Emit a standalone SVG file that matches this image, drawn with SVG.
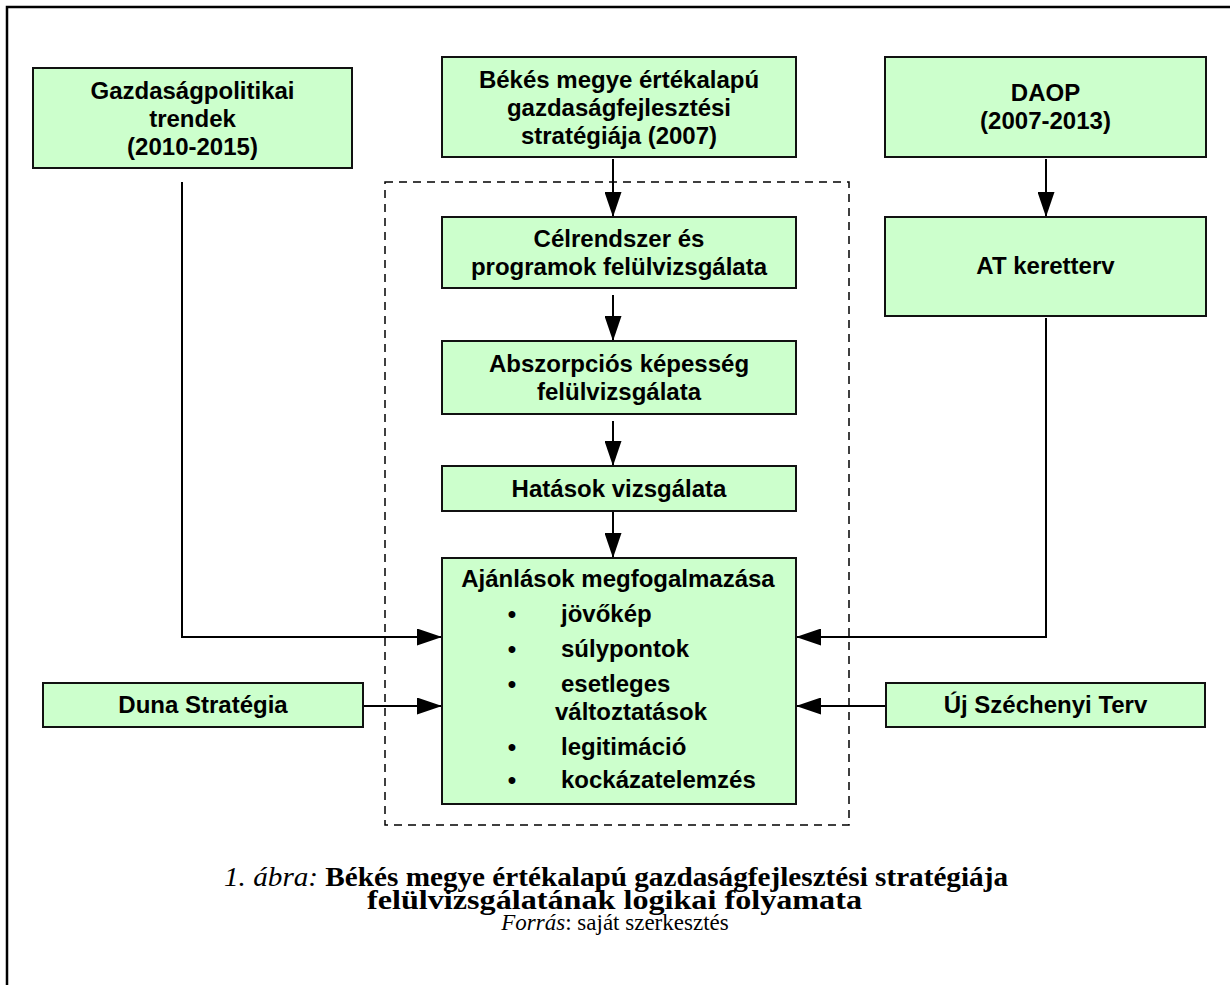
<svg xmlns="http://www.w3.org/2000/svg" width="1230" height="985" viewBox="0 0 1230 985">
<style>
.box{fill:#CCFFCC;stroke:#111;stroke-width:2}
.t{font-family:"Liberation Sans",Arial,sans-serif;font-weight:bold;font-size:24px;fill:#000;text-anchor:middle}
.l{font-family:"Liberation Sans",Arial,sans-serif;font-weight:bold;font-size:24px;fill:#000}
.c{stroke:#000;stroke-width:2;fill:none}
.cap{font-family:"Liberation Serif","Times New Roman",serif;fill:#000}
</style>
<defs>
<marker id="ah" markerUnits="userSpaceOnUse" markerWidth="26" markerHeight="17" refX="25" refY="8.5" orient="auto">
<path d="M0,0 L25,8.5 L0,17 z" fill="#000"/>
</marker>
</defs>
<rect width="1230" height="985" fill="#fff"/>
<path d="M7,985 V7 H1230" stroke="#000" stroke-width="2.5" fill="none"/>
<rect id="scope" x="385" y="182" width="464" height="643" fill="none" stroke="#000" stroke-width="1.5" stroke-dasharray="8,6"/>
<g id="connectors">
<line class="c" x1="613" y1="159" x2="613" y2="217" marker-end="url(#ah)"/>
<line class="c" x1="613" y1="295" x2="613" y2="341" marker-end="url(#ah)"/>
<line class="c" x1="613" y1="421" x2="613" y2="466" marker-end="url(#ah)"/>
<line class="c" x1="613" y1="512" x2="613" y2="558" marker-end="url(#ah)"/>
<line class="c" x1="1046" y1="159" x2="1046" y2="217" marker-end="url(#ah)"/>
<path class="c" d="M1046,318 V637 H796" marker-end="url(#ah)"/>
<path class="c" d="M182,182 V637 H442" marker-end="url(#ah)"/>
<line class="c" x1="363" y1="706" x2="442" y2="706" marker-end="url(#ah)"/>
<line class="c" x1="886" y1="706" x2="796" y2="706" marker-end="url(#ah)"/>
</g>
<g id="gazdasagpolitikai">
<rect class="box" x="33" y="68" width="319" height="100"/>
<text class="t" x="192.5" y="99">Gazdaságpolitikai</text>
<text class="t" x="192.5" y="127">trendek</text>
<text class="t" x="192.5" y="155">(2010-2015)</text>
</g>
<g id="bekes">
<rect class="box" x="442" y="57" width="354" height="100"/>
<text class="t" x="619" y="88">Békés megye értékalapú</text>
<text class="t" x="619" y="116">gazdaságfejlesztési</text>
<text class="t" x="619" y="144">stratégiája (2007)</text>
</g>
<g id="daop">
<rect class="box" x="885" y="57" width="321" height="100"/>
<text class="t" x="1045.5" y="101">DAOP</text>
<text class="t" x="1045.5" y="129">(2007-2013)</text>
</g>
<g id="celrendszer">
<rect class="box" x="442" y="217" width="354" height="71"/>
<text class="t" x="619" y="247">Célrendszer és</text>
<text class="t" x="619" y="275">programok felülvizsgálata</text>
</g>
<g id="at-keretterv">
<rect class="box" x="885" y="217" width="321" height="99"/>
<text class="t" x="1045.5" y="274">AT keretterv</text>
</g>
<g id="abszorpcios">
<rect class="box" x="442" y="341" width="354" height="73"/>
<text class="t" x="619" y="372">Abszorpciós képesség</text>
<text class="t" x="619" y="400">felülvizsgálata</text>
</g>
<g id="hatasok">
<rect class="box" x="442" y="466" width="354" height="45"/>
<text class="t" x="619" y="497">Hatások vizsgálata</text>
</g>
<g id="ajanlasok">
<rect class="box" x="442" y="558" width="354" height="246"/>
<text class="t" x="618" y="587">Ajánlások megfogalmazása</text>
<text class="t" x="512" y="622">•</text>
<text class="l" x="561" y="622">jövőkép</text>
<text class="t" x="512" y="657">•</text>
<text class="l" x="561" y="657">súlypontok</text>
<text class="t" x="512" y="692">•</text>
<text class="l" x="561" y="692">esetleges</text>
<text class="l" x="555" y="720">változtatások</text>
<text class="t" x="512" y="755">•</text>
<text class="l" x="561" y="755">legitimáció</text>
<text class="t" x="512" y="788">•</text>
<text class="l" x="561" y="788">kockázatelemzés</text>
</g>
<g id="duna">
<rect class="box" x="43" y="683" width="320" height="44"/>
<text class="t" x="203" y="713">Duna Stratégia</text>
</g>
<g id="uj-szechenyi">
<rect class="box" x="886" y="683" width="319" height="44"/>
<text class="t" x="1045.5" y="713">Új Széchenyi Terv</text>
</g>
<g id="caption">
<text class="cap" x="224" y="886" font-size="27" textLength="784" lengthAdjust="spacingAndGlyphs"><tspan font-style="italic">1. ábra:</tspan> <tspan font-weight="bold">Békés megye értékalapú gazdaságfejlesztési stratégiája</tspan></text>
<text class="cap" x="367" y="909" font-size="27" font-weight="bold" textLength="495" lengthAdjust="spacingAndGlyphs">felülvizsgálatának logikai folyamata</text>
<text class="cap" x="615" y="930" font-size="23" text-anchor="middle"><tspan font-style="italic">Forrás</tspan>: saját szerkesztés</text>
</g>
</svg>
